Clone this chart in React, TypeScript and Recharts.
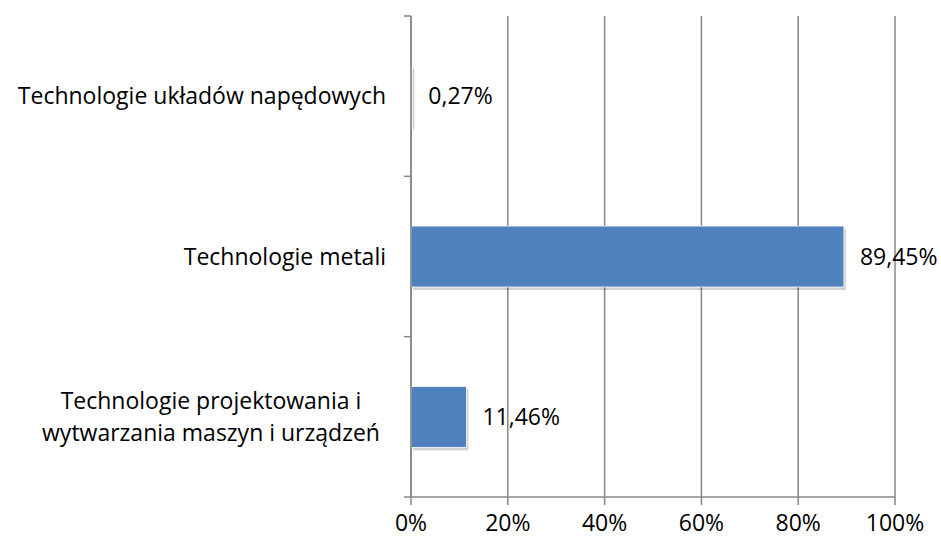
import React from 'react'
import { BarChart, Bar, XAxis, YAxis, CartesianGrid, LabelList } from 'recharts'

const categories = [
  'Technologie układów napędowych',
  'Technologie metali',
  'Technologie projektowania i\nwytwarzania maszyn i urządzeń',
]
const shares = [0.27, 89.45, 11.46]
const xTicks = [0, 20, 40, 60, 80, 100]

const data = categories.map((name, i) => ({ name, value: shares[i] }))

const FONT = '"Open Sans", sans-serif'
const FS = 23
const AXIS = '#868686'
const BAR = '#4F81BD'
const TOP = 16
const PLOT_H = 481

const fmt = (v: number) => v.toFixed(2).replace('.', ',') + '%'

// category label plus tick marks on the band boundaries
function CategoryTick(props: any) {
  const { x, y, payload, index } = props
  const band = PLOT_H / categories.length
  const lines = String(payload.value).split('\n')
  const axisX = x + 8
  const multi = lines.length > 1
  const tx = multi ? x - 192 : x - 17
  return (
    <g>
      <line x1={axisX - 7} x2={axisX} y1={y - band / 2} y2={y - band / 2} stroke={AXIS} strokeWidth={1.5} />
      {index === categories.length - 1 && (
        <line x1={axisX - 7} x2={axisX} y1={y + band / 2} y2={y + band / 2} stroke={AXIS} strokeWidth={1.5} />
      )}
      <text x={tx} y={y} textAnchor={multi ? 'middle' : 'end'} fontFamily={FONT} fontSize={FS} fill="#000">
        {lines.map((l, i) => (
          <tspan key={i} x={tx} dy={i === 0 ? -(lines.length - 1) * 16 + 8 : 32}>
            {l}
          </tspan>
        ))}
      </text>
    </g>
  )
}

function ShadowBar(props: any) {
  const { x, y, width, height } = props
  return (
    <g>
      <rect x={x + 2} y={y + 3} width={width} height={height} fill="rgba(0,0,0,0.18)" />
      <rect x={x} y={y} width={width} height={height} fill={BAR} stroke="#fff" strokeWidth={0.8} />
    </g>
  )
}

export default function App() {
  return (
    <div style={{ position: 'absolute', left: 0, top: 0, width: 941, height: 540, background: '#fff' }}>
      <BarChart
        width={941}
        height={540}
        data={data}
        layout="vertical"
        margin={{ top: TOP, right: 46, bottom: 13, left: 0 }}
        barCategoryGap="31%"
      >
        <CartesianGrid horizontal={false} stroke={AXIS} strokeWidth={1.5} />
        <XAxis
          type="number"
          domain={[0, 100]}
          ticks={xTicks}
          tickFormatter={(v: number) => `${v}%`}
          axisLine={{ stroke: AXIS, strokeWidth: 1.5 }}
          tickLine={{ stroke: AXIS, strokeWidth: 1.5 }}
          tickSize={8}
          height={30}
          tick={{ fontFamily: FONT, fontSize: FS, fill: '#000', dy: 8 }}
        />
        <YAxis
          type="category"
          dataKey="name"
          width={411}
          axisLine={{ stroke: AXIS, strokeWidth: 1.5 }}
          tickLine={false}
          tick={<CategoryTick />}
          interval={0}
        />
        <Bar dataKey="value" shape={<ShadowBar />} isAnimationActive={false}>
          <LabelList
            dataKey="value"
            position="right"
            offset={16}
            formatter={(v: any) => fmt(Number(v))}
            style={{ fontFamily: FONT, fontSize: FS, fill: '#000' }}
          />
        </Bar>
      </BarChart>
    </div>
  )
}
